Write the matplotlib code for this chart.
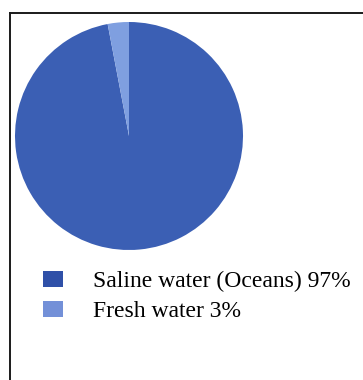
import matplotlib

matplotlib.use("Agg")
import matplotlib.pyplot as plt
from matplotlib.lines import Line2D
from matplotlib.patches import Patch

labels = ["Saline water (Oceans) 97%", "Fresh water 3%"]
shares = [97, 3]
wedge_colors = ["#3b5fb4", "#7f9fe0"]
legend_colors = ["#2f50a8", "#7390d8"]

fig = plt.figure(figsize=(3.63, 3.80), dpi=100)
fig.patch.set_facecolor("white")

# frame lines on the left and top edges
fig.add_artist(Line2D([10 / 363, 10 / 363], [0, 1 - 13 / 380], color="#1a1a1a", linewidth=1.4))
fig.add_artist(Line2D([10 / 363, 1], [1 - 13 / 380, 1 - 13 / 380], color="#1a1a1a", linewidth=1.4))

ax = fig.add_axes([15 / 363, 130 / 380, 228 / 363, 228 / 380])
start = 90 + 360 * shares[1] / sum(shares)
ax.pie(shares, colors=wedge_colors, startangle=start, counterclock=True,
       wedgeprops={"linewidth": 0})
ax.set_aspect("equal")
ax.set_xlim(-1, 1)
ax.set_ylim(-1, 1)
ax.axis("off")

handles = [Patch(facecolor=c, edgecolor="none") for c in legend_colors]
fig.legend(handles, labels, loc="upper left", bbox_to_anchor=(43 / 363, 1 - 271 / 380),
           frameon=False, prop={"family": "Liberation Serif", "size": 17},
           handlelength=0.85, handleheight=0.68, handletextpad=1.25,
           labelspacing=0.36, borderpad=0, borderaxespad=0)

fig.savefig("out.png", dpi=100, facecolor="white")
